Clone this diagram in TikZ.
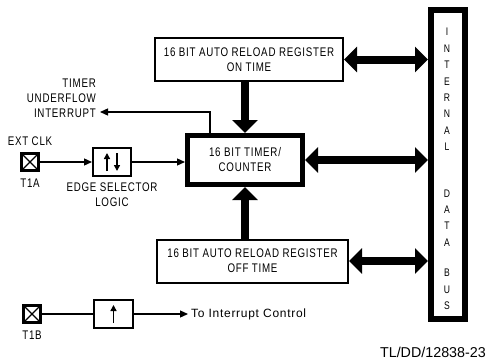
\documentclass[tikz,border=0pt]{standalone}
\usepackage{fontspec}
\setmainfont[FakeStretch=0.78,LetterSpace=6]{Liberation Sans}
\newfontfamily\plainfont{Liberation Sans}
\newfontfamily\spacedfont[LetterSpace=6]{Liberation Sans}
\usepackage{tikz}
\usetikzlibrary{calc,positioning,arrows.meta}
\tikzset{
  lab/.style={font=\fontsize{12.5}{15}\selectfont, inner sep=0pt, align=center},
  regbox/.style={draw, line width=2pt, minimum height=43pt, lab, inner sep=0pt},
  thickbox/.style={draw, line width=5pt, lab},
  smallbox/.style={draw, line width=2pt, minimum width=38pt, minimum height=28pt},
  pad/.style={draw, line width=3pt, minimum size=17pt, inner sep=0pt,
    path picture={\draw[line width=1.4pt]
      (path picture bounding box.north west) -- (path picture bounding box.south east)
      (path picture bounding box.north east) -- (path picture bounding box.south west);}},
  sig/.style={line width=1.3pt, -{Triangle[length=8pt,width=7pt]}},
  wire/.style={line width=1.3pt},
  tick/.style={line width=1.5pt, -{Triangle[length=6pt,width=6pt]}},
  bigone/.style={line width=8pt, -{Triangle[length=13pt,width=25pt]}},
  bigboth/.style={line width=8pt, {Triangle[length=13pt,width=25pt]}-{Triangle[length=13pt,width=25pt]}},
}

\begin{document}
\begin{tikzpicture}[x=1pt,y=-1pt]
  \useasboundingbox (0,0) rectangle (488,360);

  % registers, timer and bus
  \node[regbox, minimum width=188pt] (onreg) at (249,59.5) {16 BIT AUTO RELOAD REGISTER\\ON TIME};
  \node[regbox, minimum width=191pt] (offreg) at (252.5,261) {16 BIT AUTO RELOAD REGISTER\\OFF TIME};
  \node[thickbox, minimum width=115pt, minimum height=49pt] (timer) at (245,160) {16 BIT TIMER/\\COUNTER};
  \node[draw, line width=6pt, minimum width=34pt, minimum height=309pt] (bus) at (448,164.5) {};
  \node[font=\fontsize{11}{16.4}\selectfont, align=center, inner sep=0pt] (buslab) at (447,169)
    {I\\N\\T\\E\\R\\N\\A\\L\\[30pt]D\\A\\T\\A\\[14pt]B\\U\\S};

  \draw[bigboth] (onreg.east) -- (onreg.east -| bus.west);
  \draw[bigboth] (timer.east) -- (timer.east -| bus.west);
  \draw[bigboth] (offreg.east) -- (offreg.east -| bus.west);
  \draw[bigone] (onreg.south -| timer.north) -- (timer.north);
  \draw[bigone] (offreg.north -| timer.south) -- (timer.south);

  % underflow output
  \coordinate (ufbend) at (210,112);
  \coordinate (uftip) at (100,112);
  \draw[sig] (ufbend |- timer.north) -- (ufbend) -- (uftip);
  \node[lab, align=right, anchor=east] (uflab) at (96,98) {TIMER\\UNDERFLOW\\INTERRUPT};

  % T1A input
  \node[pad] (tia) at (30,162) {};
  \node[lab, above=6pt of tia] (extclk) {EXT CLK};
  \node[lab, below=7pt of tia] (tialab) {T1A};
  \node[smallbox] (edge) at (112,162) {};
  \draw[tick] ($(edge.center)+(-5,9)$) -- ($(edge.center)+(-5,-9)$);
  \draw[tick] ($(edge.center)+(5,-9)$) -- ($(edge.center)+(5,9)$);
  \node[lab, below=6pt of edge] (edgelab) {EDGE SELECTOR\\LOGIC};
  \draw[sig] (tia.east) -- (edge.west);
  \draw[sig] (edge.east) -- (edge.east -| timer.west);

  % T1B input
  \node[pad] (tib) at (32,314) {};
  \node[lab, below=7pt of tib] (tiblab) {T1B};
  \node[smallbox, minimum width=39pt] (rise) at (113.5,314) {};
  \draw[tick] ($(rise.center)+(0,9)$) -- ($(rise.center)+(0,-9)$);
  \draw[wire] (tib.east) -- (rise.west);
  \coordinate (toint) at (188,314);
  \draw[sig] (rise.east) -- (toint);
  \node[font=\spacedfont\fontsize{12}{14}\selectfont, anchor=west, inner sep=0pt] (tointlab) at ($(toint)+(3,0)$) {To Interrupt Control};

  \node[font=\plainfont\fontsize{14.3}{16}\selectfont, anchor=east, inner sep=0pt] (figno) at (486,352) {TL/DD/12838-23};
\end{tikzpicture}
\end{document}
